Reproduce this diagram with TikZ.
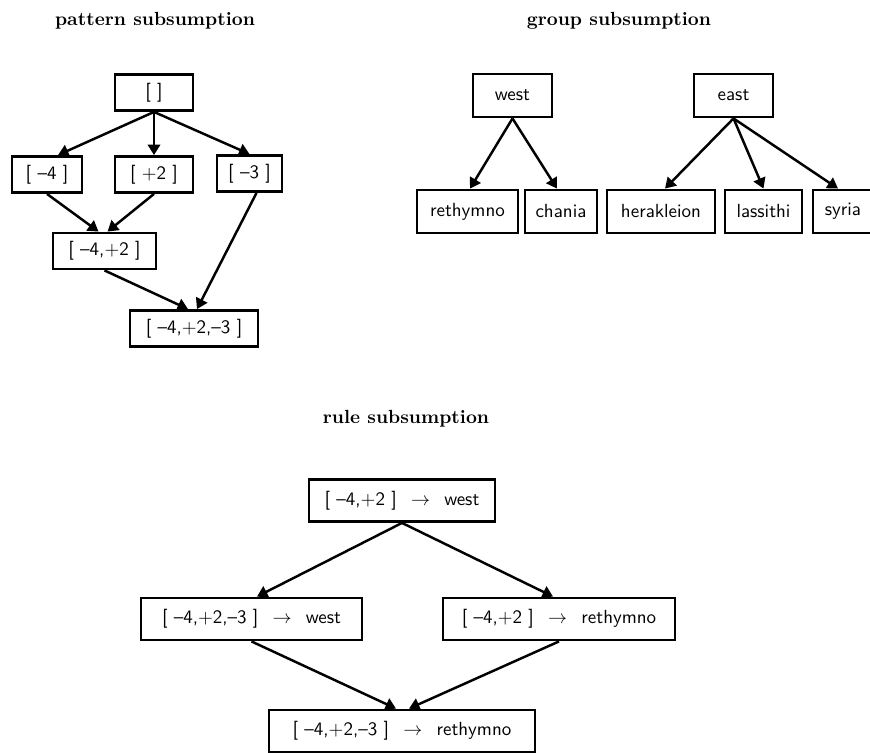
\documentclass[tikz,border=0pt]{standalone}
\usetikzlibrary{arrows.meta}
\newcommand{\pxu}{0.526316pt}
\newcommand{\rulearrow}{\hspace{0.75em}$\rightarrow$\hspace{0.75em}}

\begin{document}
\begin{tikzpicture}[x=\pxu, y=-\pxu,
  box/.style={draw, line width=1.5pt, font=\sffamily, inner sep=0pt, minimum height=42*\pxu},
  pbox/.style={box, minimum height=36*\pxu},
  ttl/.style={font=\bfseries, inner sep=0pt, anchor=base},
  arr/.style={-{Triangle[length=5.5pt,width=6.5pt]}, line width=1.3pt}]
\useasboundingbox (0,0) rectangle (870,753);

% pattern subsumption
\node[ttl] (pattitle) at (155,25) {pattern subsumption};
\node[pbox, minimum width=78*\pxu] (pnone) at (154,92.5) {[ ]};
\node[pbox, minimum width=70*\pxu] (pm4) at (47,174.5) {[ --4 ]};
\node[pbox, minimum width=78*\pxu] (pp2) at (154,174.5) {[ +2 ]};
\node[pbox, minimum width=65*\pxu] (pm3) at (249.5,173.5) {[ --3 ]};
\node[pbox, minimum width=103*\pxu] (pm4p2) at (104.5,251) {[ --4,+2 ]};
\node[pbox, minimum width=128*\pxu] (pall) at (194,328.5) {[ --4,+2,--3 ]};
\draw[arr] (pnone.south) -- ([shift={(11,0)}]pm4.north);
\draw[arr] (pnone.south) -- (pp2.north);
\draw[arr] (pnone.south) -- (pm3.north);
\draw[arr] (pm4.south) -- ([shift={(-6,0)}]pm4p2.north);
\draw[arr] (pp2.south) -- ([shift={(3,0)}]pm4p2.north);
\draw[arr] ([shift={(7,0)}]pm3.south) -- ([shift={(3,0)}]pall.north);
\draw[arr] (pm4p2.south) -- ([shift={(-6,0)}]pall.north);

% group subsumption
\node[ttl] (grptitle) at (619,25) {group subsumption};
\node[box, minimum height=43*\pxu, minimum width=79*\pxu] (west) at (512.5,95.5) {west};
\node[box, minimum height=43*\pxu, minimum width=79*\pxu] (east) at (733.5,95.5) {east};
\node[box, minimum height=43*\pxu, minimum width=101*\pxu] (rethymno) at (467.5,211.5) {rethymno};
\node[box, minimum height=43*\pxu, minimum width=72*\pxu] (chania) at (561,211.5) {chania};
\node[box, minimum height=43*\pxu, minimum width=108*\pxu] (herakleion) at (661,211.5) {herakleion};
\node[box, minimum height=43*\pxu, minimum width=77*\pxu] (lassithi) at (763.5,211.5) {lassithi};
\node[box, minimum height=43*\pxu, minimum width=60*\pxu] (syria) at (843,211.5) {syria};
\draw[arr] (west.south) -- ([shift={(2.5,0)}]rethymno.north);
\draw[arr] (west.south) -- ([shift={(-4,0)}]chania.north);
\draw[arr] (east.south) -- ([shift={(4,0)}]herakleion.north);
\draw[arr] (east.south) -- (lassithi.north);
\draw[arr] (east.south) -- ([shift={(-5,0)}]syria.north);

% rule subsumption
\node[ttl] (ruletitle) at (406,423) {rule subsumption};
\node[box, minimum width=186*\pxu] (rtop) at (402,500.5) {[ --4,+2 ]\rulearrow west};
\node[box, minimum width=221*\pxu] (rleft) at (251.5,619) {[ --4,+2,--3 ]\rulearrow west};
\node[box, minimum width=232*\pxu] (rright) at (559,619) {[ --4,+2 ]\rulearrow rethymno};
\node[box, minimum width=266*\pxu] (rbot) at (402,731) {[ --4,+2,--3 ]\rulearrow rethymno};
\draw[arr] (rtop.south) -- ([shift={(5.5,0)}]rleft.north);
\draw[arr] (rtop.south) -- ([shift={(-6,0)}]rright.north);
\draw[arr] (rleft.south) -- ([shift={(-6,0)}]rbot.north);
\draw[arr] (rright.south) -- ([shift={(7,0)}]rbot.north);
\end{tikzpicture}
\end{document}
